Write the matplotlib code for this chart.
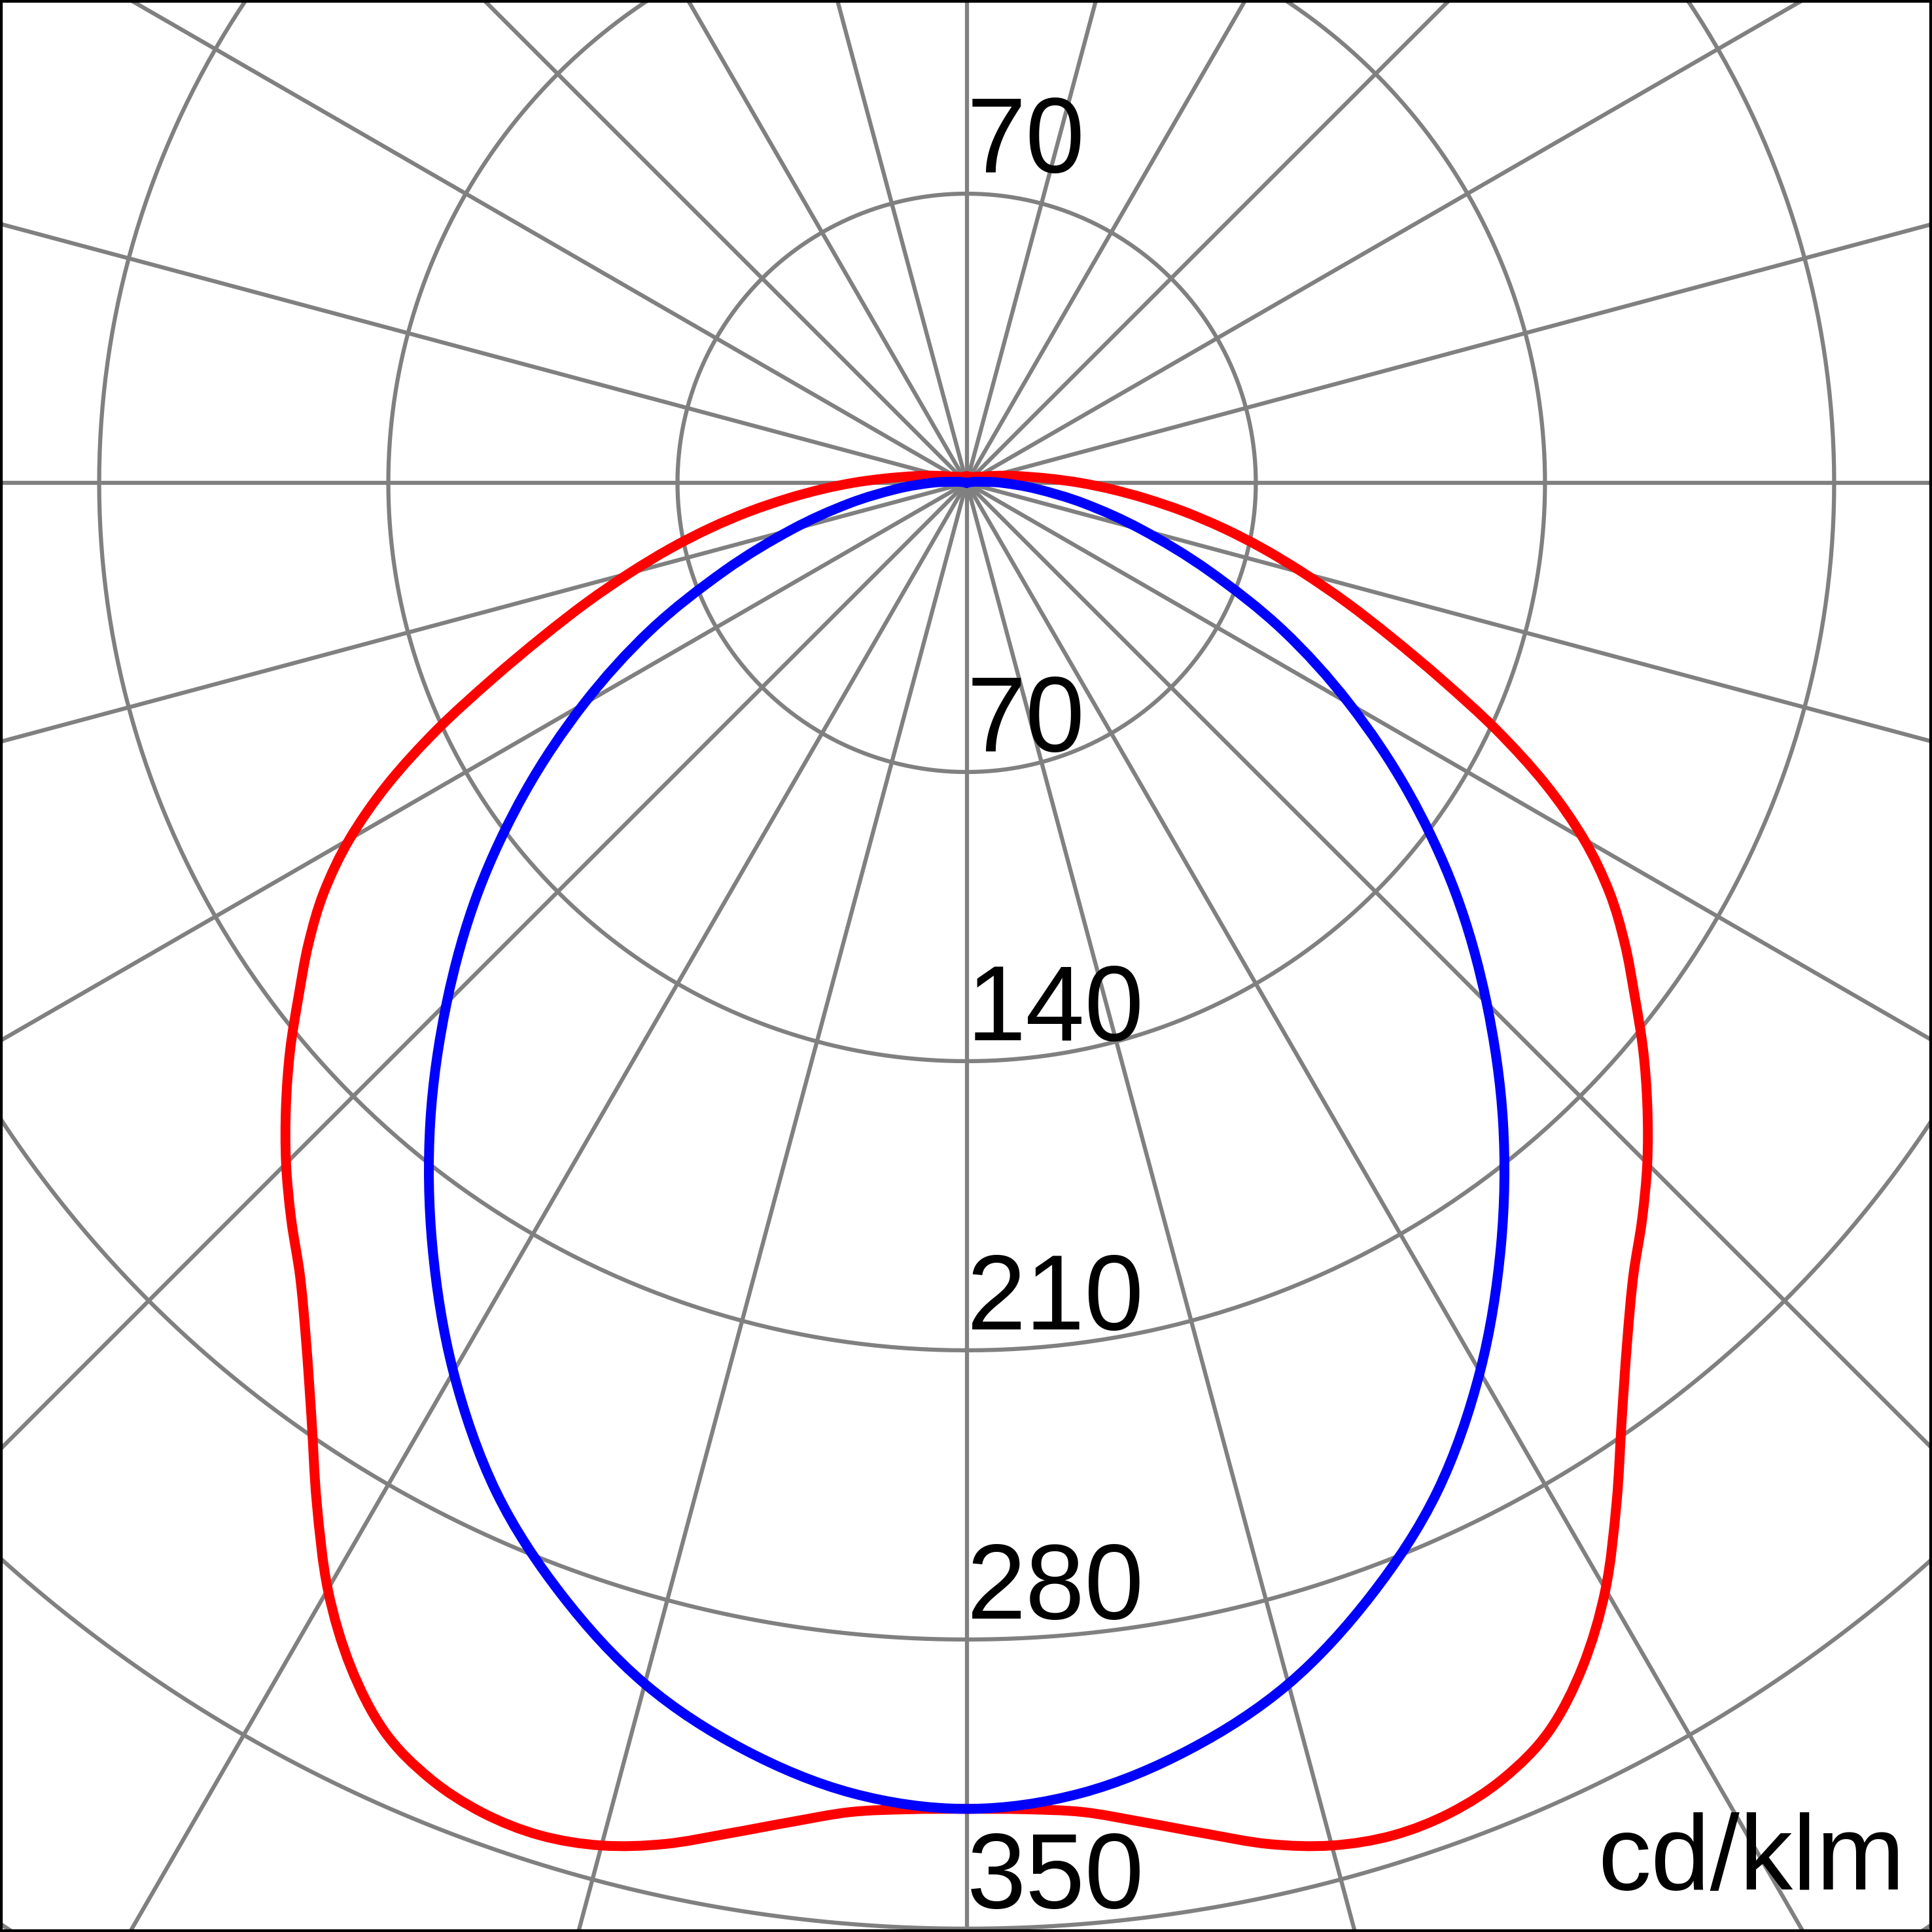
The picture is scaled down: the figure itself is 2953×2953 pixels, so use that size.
#!/usr/bin/env python3
"""Polar light distribution curve (cd/klm), C0-C180 and C90-C270 planes."""

import numpy as np
import matplotlib
matplotlib.use("Agg")
import matplotlib.pyplot as plt
from matplotlib.path import Path
from matplotlib.patches import PathPatch

plt.rcParams['font.family'] = ['Liberation Sans', 'DejaVu Sans']

# --- data (gamma in degrees from nadir, cd/klm) ---
gamma_red = [0, 2.5, 5, 7.5, 10, 12.5, 15, 17.5, 20, 22.5, 25, 27.5, 30, 32.5,
             35, 37.5, 40, 42.5, 45, 47.5, 50, 52.5, 55, 57.5, 60, 62.5, 65,
             67.5, 70, 72.5, 75, 77.5, 80, 82.5, 85, 87.5, 90, 92.5, 95, 97.5,
             100, 105, 110, 120, 135, 150, 165, 180]
intensity_red = [321, 321.4, 323, 327, 332, 337.5, 341.5, 343.3, 342.6, 339.5,
                 333.5, 323, 309.3, 292.8, 276.5, 262.6, 251, 242, 233, 223.5,
                 213.8, 203.8, 194.5, 184.5, 172.5, 158, 141.5, 124.5, 109.5,
                 96.5, 84.5, 73.5, 63, 53, 43.5, 35, 27.5, 21, 16, 12.5, 10,
                 6.5, 4.5, 3, 2, 1.7, 1.6, 1.6]

gamma_blue = [0, 5, 10, 15, 20, 25, 30, 35, 40, 45, 50, 55, 60, 65, 70, 75,
              80, 85, 90, 95, 100, 105, 120, 150, 180]
intensity_blue = [321, 318.4, 311.3, 301, 286.5, 269.5, 248.5, 225.5, 202, 178,
                  154.5, 130.5, 107, 84.5, 62.5, 44, 29, 17, 8.5, 3, 1, 0, 0,
                  0, 0]

ring_values = [70, 140, 210, 280, 350, 420]
ring_labels = ['70', '140', '210', '280', '350']
spoke_angles = np.arange(0, 360, 15)
unit_label = 'cd/klm'

GRID = '#808080'
PX_PER_UNIT = 6.314          # pixels per cd/klm at 300 dpi
W = 2953
CX, CY = 1477.5, 738.0       # pole position in pixels (from top-left)


def mirrored_xy(gamma, values):
    g = np.radians(np.asarray(gamma, dtype=float))
    v = np.asarray(values, dtype=float)
    g_full = np.concatenate([-g[::-1], g[1:]])
    v_full = np.concatenate([v[::-1], v[1:]])
    return np.column_stack([v_full * np.sin(g_full), -v_full * np.cos(g_full)])


def smooth_path(pts):
    # Catmull-Rom through the measured points, drawn as cubic Bezier segments
    p = np.vstack([pts[:1], pts, pts[-1:]])
    verts = [pts[0]]
    codes = [Path.MOVETO]
    for i in range(1, len(p) - 2):
        c1 = p[i] + (p[i + 1] - p[i - 1]) / 6.0
        c2 = p[i + 1] - (p[i + 2] - p[i]) / 6.0
        verts += [c1, c2, p[i + 1]]
        codes += [Path.CURVE4] * 3
    return Path(np.array(verts), codes)


fig = plt.figure(figsize=(W / 300, W / 300), dpi=300)
ax = fig.add_axes([0, 0, 1, 1])
ax.set_xlim(-CX / PX_PER_UNIT, (W - CX) / PX_PER_UNIT)
ax.set_ylim(-(W - CY) / PX_PER_UNIT, CY / PX_PER_UNIT)
ax.set_aspect('equal')
ax.set_xticks([])
ax.set_yticks([])
for sp in ax.spines.values():
    sp.set_linewidth(2.0)
    sp.set_color('black')

# grid: concentric rings and spokes every 15 degrees
t = np.linspace(0, 2 * np.pi, 721)
for r in ring_values:
    ax.plot(r * np.cos(t), r * np.sin(t), color=GRID, lw=1.5, zorder=1)
for a in spoke_angles:
    ar = np.radians(a)
    ax.plot([0, 800 * np.sin(ar)], [0, -800 * np.cos(ar)], color=GRID, lw=1.5,
            zorder=1)

# curves
for gam, vals, col, z in [(gamma_red, intensity_red, '#FF0000', 3),
                          (gamma_blue, intensity_blue, '#0000FF', 4)]:
    path = smooth_path(mirrored_xy(gam, vals))
    ax.add_patch(PathPatch(path, fill=False, edgecolor=col, lw=3.6, zorder=z,
                           joinstyle='round', capstyle='round'))

# ring labels
ax.text(0, ring_values[0] + 5.3, ring_labels[0], fontsize=39, ha='left',
        va='baseline', zorder=5)
for r, lab in zip(ring_values, ring_labels):
    ax.text(0, -r + 5.0, lab, fontsize=39, ha='left', va='baseline', zorder=5)

ax.text(0.986, 0.022, unit_label, transform=ax.transAxes, fontsize=39,
        ha='right', va='baseline', zorder=5)

fig.savefig('out.png', dpi=300)
